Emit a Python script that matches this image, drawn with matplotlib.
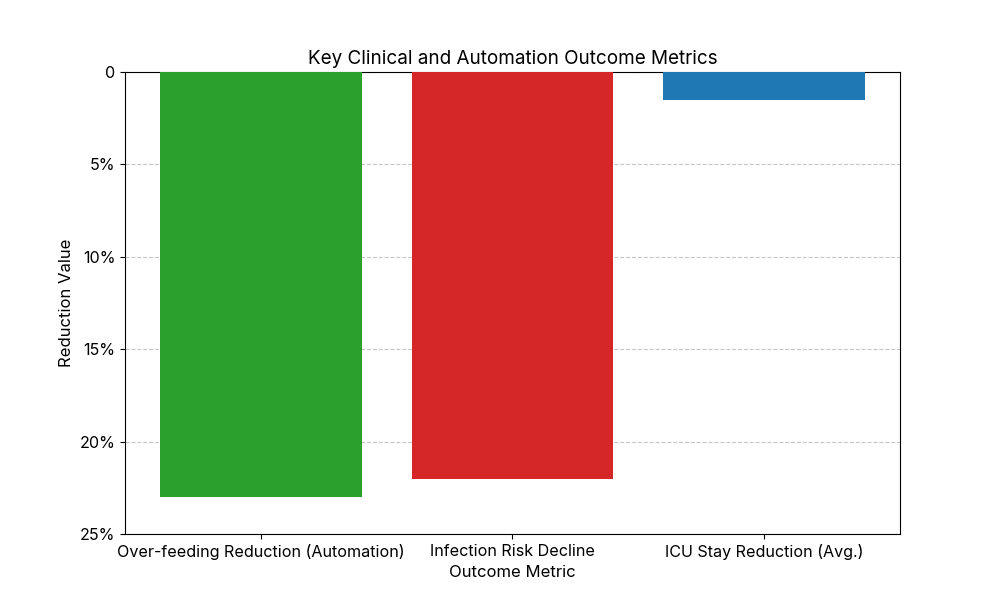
import matplotlib
matplotlib.use("Agg")
import matplotlib.pyplot as plt
from matplotlib.ticker import FuncFormatter

plt.rcParams['font.family'] = ['Inter', 'DejaVu Sans']
plt.rcParams['font.size'] = 11.6

metrics = ["Over-feeding Reduction (Automation)", "Infection Risk Decline", "ICU Stay Reduction (Avg.)"]
reductions = [23.0, 22.0, 1.5]
colors = ["#2ca02c", "#d62728", "#1f77b4"]

fig, ax = plt.subplots(figsize=(10, 6), dpi=100)
ax.bar(metrics, reductions, color=colors, width=0.8, zorder=3)
ax.set_ylim(25, 0)
ax.yaxis.set_major_formatter(FuncFormatter(lambda v, p: "0" if v == 0 else f"{v:.0f}%"))
ax.grid(axis="y", linestyle="--", alpha=0.7, zorder=0)
ax.set_title("Key Clinical and Automation Outcome Metrics", fontsize=13.6)
ax.set_xlabel("Outcome Metric", fontsize=12)
ax.set_ylabel("Reduction Value", fontsize=12)

fig.savefig("out.png")
